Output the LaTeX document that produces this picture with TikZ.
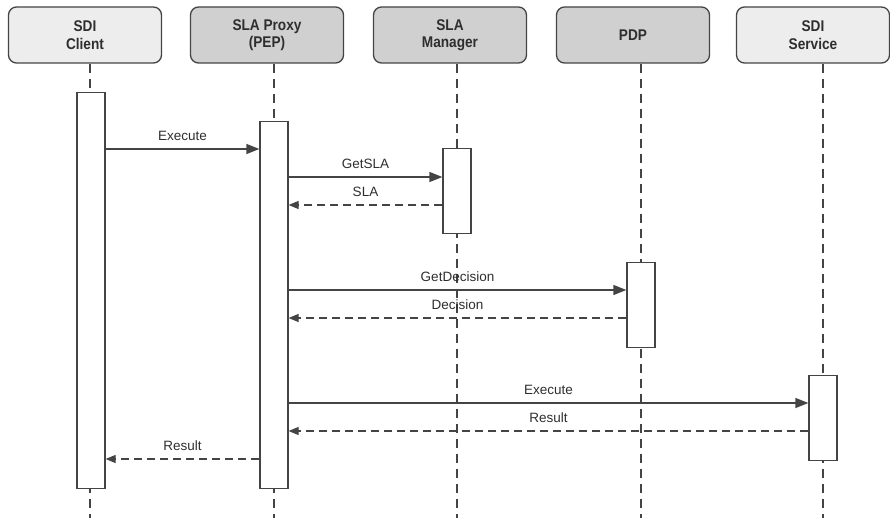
\documentclass[tikz,border=0pt]{standalone}
\usepackage{fontspec}
\setmainfont{Liberation Sans}
\newfontfamily\headfont[FakeStretch=0.88]{Liberation Sans}
\usetikzlibrary{arrows.meta}
\definecolor{ink}{HTML}{2E2E2E}
\definecolor{edge}{HTML}{444444}
\definecolor{lightfill}{HTML}{EDEDED}
\definecolor{darkfill}{HTML}{D0D0D0}
\tikzset{
  actor/.style={draw=edge, line width=1.3pt, rounded corners=8pt,
    minimum width=153pt, minimum height=56pt, inner sep=0pt,
    align=center, text=ink, font=\headfont\fontsize{15.5}{17.5}\selectfont\bfseries},
  light/.style={actor, fill=lightfill},
  dark/.style={actor, fill=darkfill},
  lifeline/.style={draw=edge, line width=1.2pt, dash pattern=on 9pt off 6pt},
  act/.style={draw=edge, line width=1.2pt, fill=white, minimum width=28pt,
    inner sep=0pt, anchor=north},
  call/.style={draw=edge, line width=1.2pt, -{Triangle[length=13pt,width=10pt]}},
  reply/.style={draw=edge, line width=1.2pt, dash pattern=on 8pt off 5pt,
    -{Triangle[length=10pt,width=8pt]}},
  lbl/.style={text=ink, font=\fontsize{13.5}{16}\selectfont, inner sep=0pt}
}
\begin{document}
\begin{tikzpicture}[x=1pt, y=-1pt]
\useasboundingbox (0,0) rectangle (890,518);

% participants
\node[light] (client)  at (85,35)  {SDI\\Client};
\node[dark]  (proxy)   at (267,35) {SLA Proxy\\(PEP)};
\node[dark]  (manager) at (450,35) {SLA\\Manager};
\node[dark]  (pdp)     at (633,35) {PDP};
\node[light] (service) at (813,35) {SDI\\Service};

% lifelines
\coordinate (clientEnd)  at (90,518);
\coordinate (proxyEnd)   at (274,518);
\coordinate (managerEnd) at (457,518);
\coordinate (pdpEnd)     at (641,518);
\coordinate (serviceEnd) at (823,518);
\draw[lifeline] (clientEnd |- client.south) -- (clientEnd);
\draw[lifeline] (proxyEnd |- proxy.south) -- (proxyEnd);
\draw[lifeline] (managerEnd |- manager.south) -- (managerEnd);
\draw[lifeline] (pdpEnd |- pdp.south) -- (pdpEnd);
\draw[lifeline] (serviceEnd |- service.south) -- (serviceEnd);

% activation bars
\node[act, minimum height=396pt] (clientA)  at (91,92)  {};
\node[act, minimum height=367pt] (proxyA)   at (274,121) {};
\node[act, minimum height=85pt]  (managerA) at (457,148) {};
\node[act, minimum height=85pt]  (pdpA)     at (641,262) {};
\node[act, minimum height=85pt]  (serviceA) at (823,375) {};

% messages
\draw[call] (clientA.east |- 0,149) -- node[lbl, above=8pt] {Execute} (proxyA.west |- 0,149);
\draw[call] (proxyA.east |- 0,177) -- node[lbl, above=8pt] {GetSLA} (managerA.west |- 0,177);
\draw[reply] (managerA.west |- 0,205) -- node[lbl, above=8pt] {SLA} (proxyA.east |- 0,205);
\draw[call] (proxyA.east |- 0,290) -- node[lbl, above=8pt] {GetDecision} (pdpA.west |- 0,290);
\draw[reply] (pdpA.west |- 0,318) -- node[lbl, above=8pt] {Decision} (proxyA.east |- 0,318);
\draw[call] (proxyA.east |- 0,403) -- node[lbl, above=8pt] {Execute} (serviceA.west |- 0,403);
\draw[reply] (serviceA.west |- 0,431) -- node[lbl, above=8pt] {Result} (proxyA.east |- 0,431);
\draw[reply] (proxyA.west |- 0,459) -- node[lbl, above=8pt] {Result} (clientA.east |- 0,459);
\end{tikzpicture}
\end{document}
